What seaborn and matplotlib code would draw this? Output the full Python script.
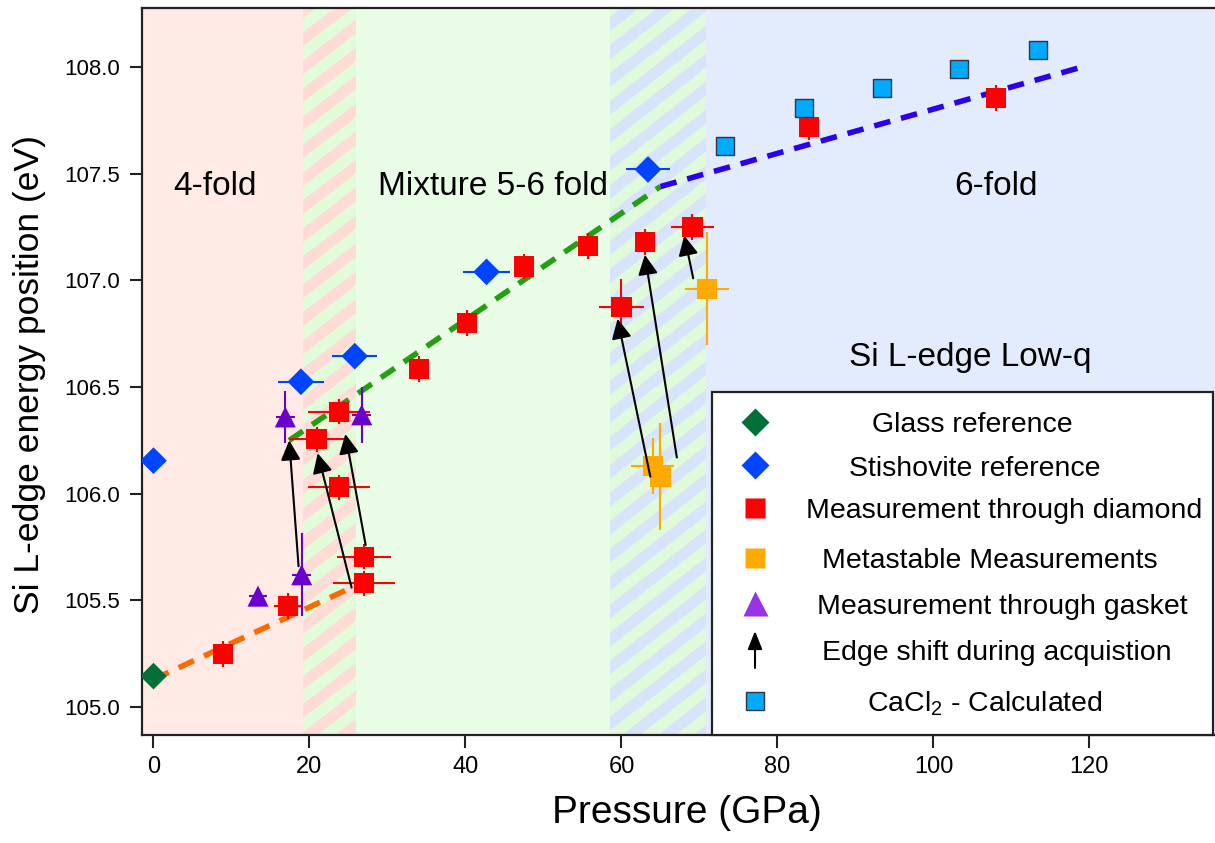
import numpy as np
import matplotlib
matplotlib.use("Agg")
import matplotlib.pyplot as plt
import seaborn as sns
from matplotlib.patches import Rectangle

# ---------------- data ----------------
glass_p = [0.0]
glass_e = [105.145]

stish_p = [0.0, 18.9, 25.8, 42.7, 63.4]
stish_e = [106.155, 106.525, 106.645, 107.04, 107.52]
stish_xerr = [0.0, 2.9, 2.9, 3.0, 2.8]

diam_p = [8.9, 17.2, 20.9, 23.8, 23.8, 27.0, 27.0, 34.0, 40.2, 47.5, 55.7, 60.0, 63.0, 69.1, 84.0, 108.0]
diam_e = [105.25, 105.475, 106.255, 106.385, 106.03, 105.705, 105.58, 106.585, 106.80, 107.065,
          107.16, 106.875, 107.18, 107.25, 107.72, 107.855]
diam_xerr = [1.0, 1.7, 3.5, 4.0, 4.0, 3.5, 4.0, 0.0, 0.0, 0.0, 0.0, 2.9, 1.2, 2.8, 0.0, 0.0]
diam_yerr = [0.06, 0.06, 0.06, 0.06, 0.06, 0.06, 0.06, 0.06, 0.06, 0.06, 0.06, 0.13, 0.06, 0.06, 0.06, 0.06]

meta_p = [64.0, 65.0, 71.0]
meta_e = [106.13, 106.08, 106.96]
meta_xerr = [2.8, 1.2, 2.8]
meta_yerr = [0.13, 0.25, 0.265]

gask_p = [13.4, 16.9, 19.0, 26.7]
gask_e = [105.52, 106.36, 105.62, 106.37]
gask_xerr = [1.2, 1.2, 1.2, 1.2]
gask_yerr = [0.04, 0.12, 0.195, 0.13]

cacl_p = [73.3, 83.4, 93.4, 103.3, 113.4]
cacl_e = [107.63, 107.81, 107.90, 107.99, 108.08]

# edge shift arrows: start (p, e) -> end (p, e)
arr_p0 = [18.6, 25.4, 27.2, 63.7, 67.1, 69.2]
arr_e0 = [105.66, 105.56, 105.76, 106.08, 106.17, 107.01]
arr_p1 = [17.4, 21.05, 24.6, 59.5, 63.0, 68.05]
arr_e1 = [106.25, 106.19, 106.28, 106.82, 107.12, 107.21]

# dashed trend lines
fit4_p = [0.0, 25.4]
fit4_e = [105.13, 105.56]
fit5_p = [17.4, 65.0]
fit5_e = [106.25, 107.44]
fit6_p = [65.0, 119.0]
fit6_e = [107.44, 108.0]

# region boundaries (GPa)
reg_bounds = [19.2, 25.9, 58.5, 70.8]

legend_labels = ["Glass reference", "Stishovite reference", "Measurement through diamond",
                 "Metastable Measurements", "Measurement through gasket",
                 "Edge shift during acquistion", "CaCl$_\\mathregular{2}$ - Calculated"]

# ---------------- style ----------------
sns.set_theme(style="ticks")
plt.rcParams['font.family'] = ['Liberation Sans', 'DejaVu Sans']
plt.rcParams['mathtext.fontset'] = 'custom'
plt.rcParams['mathtext.rm'] = 'Liberation Sans'
for k in ['text.color', 'axes.labelcolor', 'xtick.color', 'ytick.color',
          'xtick.labelcolor', 'ytick.labelcolor']:
    plt.rcParams[k] = 'black'

fig = plt.figure(figsize=(12.15, 8.43), dpi=100)
ax = fig.add_axes([142/1215, 1-735/843, (1215-142)/1215, (735-8)/843])

XMIN, XMAX = -1.474, 136.1
YMIN, YMAX = 104.869, 108.277
ax.set_xlim(XMIN, XMAX)
ax.set_ylim(YMIN, YMAX)

# background regions
c_pink = "#FFEAE6"
c_green = "#E9FCE6"
c_blue = "#E3ECFD"
ax.axvspan(XMIN, reg_bounds[0], color=c_pink, lw=0, zorder=0)
ax.axvspan(reg_bounds[1], reg_bounds[2], color=c_green, lw=0, zorder=0)
ax.axvspan(reg_bounds[3], XMAX, color=c_blue, lw=0, zorder=0)

fig.canvas.draw()


def stripes(x0, x1, col_a, col_b):
    nx, ny = 160, 1500
    xs = np.linspace(x0, x1, nx)
    ys = np.linspace(YMIN, YMAX, ny)
    X, Y = np.meshgrid(xs, ys)
    pts = ax.transData.transform(np.column_stack([X.ravel(), Y.ravel()]))
    px, py = pts[:, 0], pts[:, 1]
    th = np.deg2rad(38)
    period = 28 * np.cos(th)
    s = py * np.cos(th) - px * np.sin(th)
    m = ((s % period) < period / 2).reshape(ny, nx)
    ca = np.array(matplotlib.colors.to_rgb(col_a))
    cb = np.array(matplotlib.colors.to_rgb(col_b))
    img = np.where(m[..., None], ca, cb)
    ax.imshow(img, extent=[x0, x1, YMIN, YMAX], origin='lower', aspect='auto',
              interpolation='antialiased', zorder=0)


stripes(reg_bounds[0], reg_bounds[1], "#FFDCD7", "#E2FCDA")
stripes(reg_bounds[2], reg_bounds[3], "#D8E4FA", "#E0FADC")
ax.set_xlim(XMIN, XMAX)
ax.set_ylim(YMIN, YMAX)

# dashed trend lines
dash = (0, (3, 2))
sns.lineplot(x=fit4_p, y=fit4_e, color="#FF6A00", linewidth=4, linestyle=dash, ax=ax, zorder=2)
sns.lineplot(x=fit5_p, y=fit5_e, color="#22A010", linewidth=4, linestyle=dash, ax=ax, zorder=2)
sns.lineplot(x=fit6_p, y=fit6_e, color="#2A00EE", linewidth=4, linestyle=dash, ax=ax, zorder=2)

# error bars
ax.errorbar(stish_p, stish_e, xerr=stish_xerr, fmt='none', ecolor="#0044FF", elinewidth=1.5, capsize=0, zorder=3)
ax.errorbar(diam_p, diam_e, xerr=diam_xerr, yerr=diam_yerr, fmt='none', ecolor="#FF0000", elinewidth=1.5, capsize=0, zorder=3)
ax.errorbar(meta_p, meta_e, xerr=meta_xerr, yerr=meta_yerr, fmt='none', ecolor="#FFAA00", elinewidth=1.5, capsize=0, zorder=3)
ax.errorbar(gask_p, gask_e, xerr=gask_xerr, yerr=gask_yerr, fmt='none', ecolor="#6A00CC", elinewidth=1.5, capsize=0, zorder=3)

# markers
sns.scatterplot(x=glass_p, y=glass_e, marker='D', s=185, color="#007038", edgecolor="none", ax=ax, zorder=4)
sns.scatterplot(x=stish_p, y=stish_e, marker='D', s=185, color="#0044FF", edgecolor="none", ax=ax, zorder=4)
sns.scatterplot(x=diam_p, y=diam_e, marker='s', s=210, color="#FF0000", edgecolor="none", ax=ax, zorder=4)
sns.scatterplot(x=meta_p, y=meta_e, marker='s', s=210, color="#FFAA00", edgecolor="none", ax=ax, zorder=4)
sns.scatterplot(x=gask_p, y=gask_e, marker='^', s=230, color="#6A00CC", edgecolor="none", ax=ax, zorder=4)
sns.scatterplot(x=cacl_p, y=cacl_e, marker='s', s=160, color="#00AAFF", edgecolor="#333344", linewidth=1.0, ax=ax, zorder=4)

# arrows
for p0, e0, p1, e1 in zip(arr_p0, arr_e0, arr_p1, arr_e1):
    ax.annotate("", xy=(p1, e1), xytext=(p0, e0),
                arrowprops=dict(arrowstyle="-|>,head_length=0.6,head_width=0.3", mutation_scale=20,
                                color="black", lw=1.5, shrinkA=0, shrinkB=0), zorder=5)

# region labels
ax.text(7.9, 107.44, "4-fold", fontsize=24, ha='center', va='center', zorder=6)
ax.text(43.5, 107.44, "Mixture 5-6 fold", fontsize=24, ha='center', va='center', zorder=6)
ax.text(108.0, 107.44, "6-fold", fontsize=24, ha='center', va='center', zorder=6)
ax.text(104.7, 106.64, "Si L-edge Low-q", fontsize=24, ha='center', va='center', zorder=6)

# axes styling
ax.set_xticks([0, 20, 40, 60, 80, 100, 120])
ax.set_yticks([105.0, 105.5, 106.0, 106.5, 107.0, 107.5, 108.0])
ax.yaxis.set_major_formatter(matplotlib.ticker.FormatStrFormatter('%.1f'))
ax.tick_params(axis='both', direction='out', length=9, width=1.5, color='#222222', labelcolor='black')
ax.tick_params(axis='x', labelsize=17, pad=6)
ax.tick_params(axis='y', labelsize=16, pad=7)
for sp in ['left', 'bottom', 'top']:
    ax.spines[sp].set_color('#222222')
    ax.spines[sp].set_linewidth(1.6)
ax.spines['right'].set_visible(False)
ax.set_xlabel("Pressure (GPa)", fontsize=28, color='black')
ax.set_ylabel("Si L-edge energy position (eV)", fontsize=25.5, color='black')
ax.xaxis.set_label_coords((687-142)/1073, -(795-735)/727)
ax.yaxis.set_label_coords(-(142-46)/1073, (735-375)/727)

# manual legend
def fx(px):
    return (px - 142) / 1073


def fy(py):
    return (735 - py) / 727


T = ax.transAxes
ax.add_patch(Rectangle((fx(712), fy(735)), fx(1213) - fx(712), fy(392) - fy(735), transform=T,
                       facecolor='white', edgecolor='#222222', lw=1.6, zorder=10, clip_on=False))
mx = fx(755)
rows = [422, 465, 508, 558, 603, 650, 701]
txt_x = [972, 975, 1004, 990, 1002, 997, 984.5]
ax.plot([mx], [fy(rows[0])], marker='D', ms=14, color="#007038", mec='none', transform=T, zorder=11, clip_on=False)
ax.plot([mx], [fy(rows[1])], marker='D', ms=14, color="#0044FF", mec='none', transform=T, zorder=11, clip_on=False)
ax.plot([mx], [fy(rows[2])], marker='s', ms=15, color="#FF0000", mec='none', transform=T, zorder=11, clip_on=False)
ax.plot([mx], [fy(rows[3])], marker='s', ms=15, color="#FFAA00", mec='none', transform=T, zorder=11, clip_on=False)
ax.plot([mx], [fy(rows[4])], marker='^', ms=18, color="#9933E6", mec='none', transform=T, zorder=11, clip_on=False)
ax.annotate("", xy=(mx, fy(631)), xytext=(mx, fy(668)), xycoords=T, textcoords=T,
            arrowprops=dict(arrowstyle="-|>,head_length=0.55,head_width=0.22", mutation_scale=20,
                            color="black", lw=1.5, shrinkA=0, shrinkB=0), zorder=11)
ax.plot([mx], [fy(rows[6])], marker='s', ms=13, color="#00AAFF", mec="#333344", mew=1.0, transform=T, zorder=11, clip_on=False)
for lab, tx, ry in zip(legend_labels, txt_x, rows):
    ax.text(fx(tx), fy(ry + 10.5), lab, transform=T, fontsize=20.5, ha='center', va='baseline',
            color='black', zorder=12)

fig.savefig("out.png", dpi=100)
